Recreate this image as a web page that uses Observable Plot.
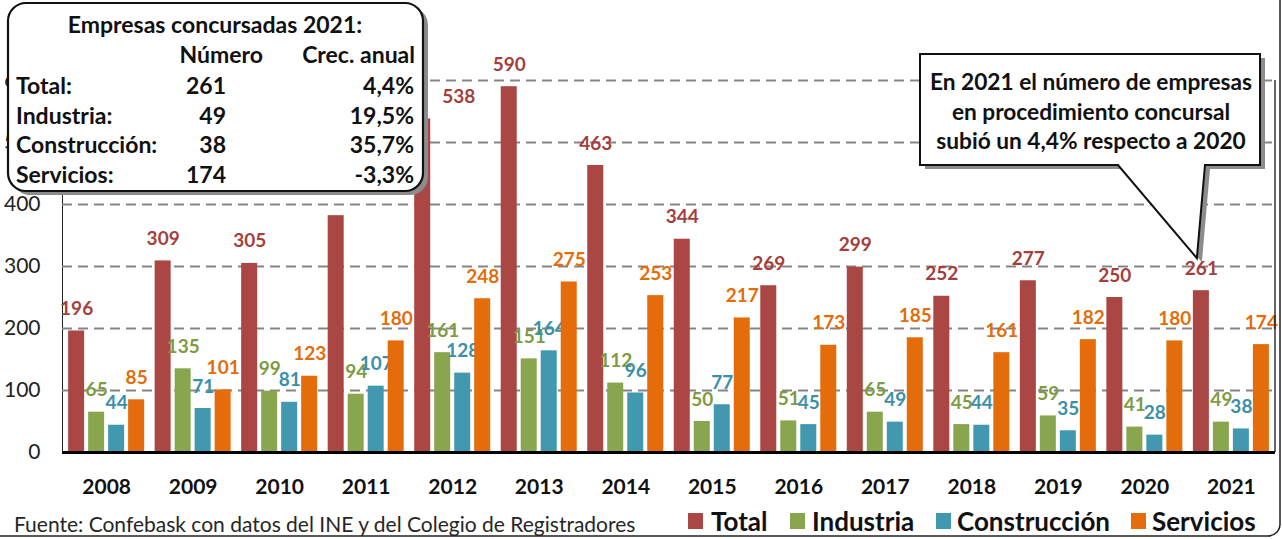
<!DOCTYPE html>
<html>
<head>
<meta charset="utf-8">
<script src="https://cdn.jsdelivr.net/npm/d3@7"></script>
<script src="https://cdn.jsdelivr.net/npm/@observablehq/plot@0.6"></script>
<style>
  html, body { margin: 0; padding: 0; background: #fff; }
  #wrap { position: relative; width: 1282px; height: 539px; overflow: hidden; font-family: Lato, "Open Sans", sans-serif; }
  #chart { position: absolute; left: 0; top: 0; }
  #legend { position: absolute; left: 0; top: 0; width: 1282px; height: 539px; font-weight: bold; font-size: 26px; color: #111; }
  #legend .sw { position: absolute; top: 513px; width: 15px; height: 16px; }
  #legend .lb { position: absolute; top: 504px; line-height: 34px; white-space: nowrap; }
  #source { position: absolute; left: 14px; top: 511px; font-size: 21px; color: #262626; white-space: nowrap; }
  #overlay { position: absolute; left: 0; top: 0; pointer-events: none; }
  .narrow { font-family: Lato, sans-serif; }
</style>
</head>
<body>
<div id="wrap">
  <div id="chart"></div>
  <div id="source">Fuente: Confebask con datos del INE y del Colegio de Registradores</div>
  <div id="legend"></div>
  <svg id="overlay" width="1282" height="539"></svg>
</div>
<script>
// ---- Data ----
const years = ["2008","2009","2010","2011","2012","2013","2014","2015","2016","2017","2018","2019","2020","2021"];
const seriesNames = ["Total", "Industria", "Construcción", "Servicios"];
const total        = [196, 309, 305, 382, 538, 590, 463, 344, 269, 299, 252, 277, 250, 261];
const industria    = [65, 135, 99, 94, 161, 151, 112, 50, 51, 65, 45, 59, 41, 49];
const construccion = [44, 71, 81, 107, 128, 164, 96, 77, 45, 49, 44, 35, 28, 38];
const servicios    = [85, 101, 123, 180, 248, 275, 253, 217, 173, 185, 161, 182, 180, 174];
const yTicks = [0, 100, 200, 300, 400, 500, 600];

// summary table (2021)
const tableRows = ["Total:", "Industria:", "Construcción:", "Servicios:"];
const tableNumbers = ["261", "49", "38", "174"];
const tableGrowth = ["4,4%", "19,5%", "35,7%", "-3,3%"];
const calloutLines = ["En 2021 el número de empresas", "en procedimiento concursal", "subió un 4,4% respecto a 2020"];

const barColors = ["#AA4643", "#89A54E", "#4198AF", "#E46C0A"];
const labelColors = ["#A3403D", "#7E9B43", "#3A90A8", "#E46C0A"];

const seriesValues = [total, industria, construccion, servicios];
const data = years.flatMap((yr, i) => seriesNames.map((s, k) => ({year: yr, series: s, k, value: seriesValues[k][i]})));

// ---- Layout constants ----
const W = 1282, H = 497, mL = 62, mR = 7, mT = 80, mB = 45;
const pad = 0.02;
const step = (W - mL - mR) / (years.length + pad);
const bw = step * (1 - pad);
const barW = 16, barStep = 20;
const groupStart = (bw - (barStep * 3 + barW)) / 2;

// label placement tweaks as in the original (2012 total label moved right, 2011 total label tucked under the box)
const labelDx = d => (d.k === 0 && d.year === "2012" ? 36 : 0);
const labelDy = d => (d.k === 0 && d.year === "2011" ? -14 : 0);

const marks = [
  Plot.ruleY(yTicks.filter(d => d > 0), {stroke: "#858585", strokeWidth: 2, strokeDasharray: "10,6"})
];
seriesNames.forEach((s, k) => {
  const rows = data.filter(d => d.k === k);
  const left = groupStart + barStep * k;
  marks.push(Plot.barY(rows, {x: "year", y: "value", fill: barColors[k], insetLeft: left, insetRight: bw - left - barW}));
  // split labels into normal and tweaked groups (dx/dy are constants per mark)
  const normal = rows.filter(d => !labelDx(d) && !labelDy(d));
  const tweaked = rows.filter(d => labelDx(d) || labelDy(d));
  const base = left + barW / 2 - bw / 2;
  const tOpts = {x: "year", y: "value", text: d => String(d.value), fill: labelColors[k], fontWeight: "bold", fontSize: 19, fontFamily: "Lato, sans-serif"};
  marks.push(Plot.text(normal, {...tOpts, dx: base, dy: -22}));
  tweaked.forEach(d => marks.push(Plot.text([d], {...tOpts, dx: base + labelDx(d), dy: -22 + labelDy(d)})));
});
marks.push(Plot.text(years, {x: d => d, y: 0, text: d => d, dy: 35, fontWeight: "bold", fontSize: 21, fill: "#111", fontFamily: "Lato, sans-serif"}));
marks.push(Plot.ruleY([0], {stroke: "#000", strokeWidth: 3}));

const chart = Plot.plot({
  width: W, height: H,
  marginLeft: mL, marginRight: mR, marginTop: mT, marginBottom: mB,
  style: {fontFamily: "Lato, sans-serif", fontSize: "21px", color: "#222", background: "transparent"},
  x: {domain: years, padding: pad, round: false, axis: null},
  y: {domain: [0, 600], ticks: yTicks, tickSize: 0, tickPadding: 22, label: null, line: true, tickFormat: d => String(d)},
  marks
});
document.getElementById("chart").appendChild(chart);
d3.select(chart).selectAll('g[aria-label="y-axis"] path, g[aria-label="y-axis line"] path').attr("stroke", "#000").attr("stroke-width", 2);

// ---- Legend ----
const legendSwatchX = [688, 790, 936, 1131];
const legendTextX = [711, 812, 957, 1152];
const legend = d3.select("#legend");
seriesNames.forEach((s, k) => {
  legend.append("div").attr("class", "sw").style("left", legendSwatchX[k] + "px").style("background", barColors[k]);
  legend.append("div").attr("class", "lb").style("left", legendTextX[k] + "px").text(s);
});

// ---- Overlay: frame, summary box, callout ----
const ov = d3.select("#overlay");
const xS = chart.scale("x"), yS = chart.scale("y");
// right plot edge
ov.append("line").attr("x1", W - mR).attr("x2", W - mR).attr("y1", yS.apply(600)).attr("y2", yS.apply(0)).attr("stroke", "#000").attr("stroke-width", 1.2);
// outer rounded border
ov.append("rect").attr("x", -12).attr("y", -12).attr("width", 1292).attr("height", 548).attr("rx", 12)
  .attr("fill", "none").attr("stroke", "#222").attr("stroke-width", 1.5);

// summary table box
ov.append("rect").attr("x", 12).attr("y", 7).attr("width", 416).attr("height", 188).attr("rx", 18).attr("fill", "#8c8c8c");
ov.append("rect").attr("x", 8).attr("y", 3).attr("width", 415).attr("height", 188).attr("rx", 18)
  .attr("fill", "#fff").attr("stroke", "#111").attr("stroke-width", 2.2);
const tg = ov.append("g").attr("class", "narrow").attr("font-size", 23).attr("fill", "#111").attr("font-weight", "bold");
tg.append("text").attr("x", 215).attr("y", 33).attr("text-anchor", "middle").text("Empresas concursadas 2021:");
tg.append("text").attr("x", 263).attr("y", 63).attr("text-anchor", "end").text("Número");
tg.append("text").attr("x", 415).attr("y", 63).attr("text-anchor", "end").text("Crec. anual");
tableRows.forEach((r, i) => {
  const yy = 94 + i * 29.5;
  tg.append("text").attr("x", 16).attr("y", yy).text(r);
  tg.append("text").attr("x", 226).attr("y", yy).attr("text-anchor", "end").text(tableNumbers[i]);
  tg.append("text").attr("x", 414).attr("y", yy).attr("text-anchor", "end").text(tableGrowth[i]);
});

// callout pointing to 2021 total
const tipX = xS.apply("2021") + groupStart + barW / 2 - 4;
const tipY = yS.apply(261) - 32;
const cp = `M920,54 H1260 V165 H1205 L${tipX},${tipY} L1118,165 H920 Z`;
ov.append("path").attr("d", cp).attr("fill", "#8c8c8c").attr("transform", "translate(5,4)");
ov.append("path").attr("d", cp).attr("fill", "#fff").attr("stroke", "#111").attr("stroke-width", 2);
const cg = ov.append("g").attr("class", "narrow").attr("font-size", 22.7).attr("font-weight", "bold").attr("fill", "#111").attr("text-anchor", "middle");
calloutLines.forEach((l, i) => cg.append("text").attr("x", 1091).attr("y", 90 + i * 29.5).text(l));
</script>
</body>
</html>
